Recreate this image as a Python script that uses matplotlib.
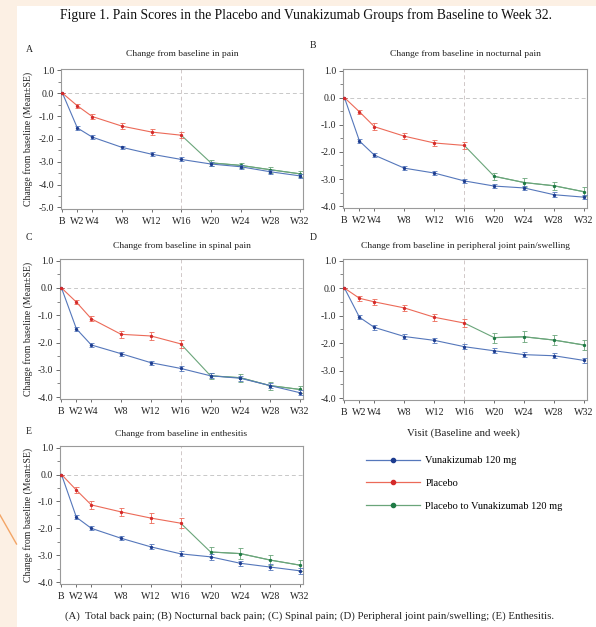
import matplotlib
matplotlib.use("Agg")
import matplotlib.pyplot as plt
from matplotlib.lines import Line2D
from matplotlib.patches import Rectangle
from matplotlib.ticker import MultipleLocator, FormatStrFormatter

plt.rcParams['font.family'] = ['Liberation Serif', 'DejaVu Serif']

# ---------------- data ----------------
weeks = [0, 2, 4, 8, 12, 16, 20, 24, 28, 32]
tick_labels = ['B', 'W2', 'W4', 'W8', 'W12', 'W16', 'W20', 'W24', 'W28', 'W32']
placebo_weeks = [0, 2, 4, 8, 12, 16]
switch_weeks = [20, 24, 28, 32]

series_names = ['Vunakizumab 120 mg', 'Placebo', 'Placebo to Vunakizumab 120 mg']
panel_letters = ['A', 'B', 'C', 'D', 'E']
panel_titles = ['Change from baseline in pain',
                'Change from baseline in nocturnal pain',
                'Change from baseline in spinal pain',
                'Change from baseline in peripheral joint pain/swelling',
                'Change from baseline in enthesitis']

vuna_A = [0, -1.52, -1.92, -2.37, -2.67, -2.90, -3.10, -3.22, -3.44, -3.62]
vuna_A_se = [0, 0.07, 0.07, 0.08, 0.09, 0.09, 0.09, 0.09, 0.09, 0.09]
plac_A = [0, -0.55, -1.02, -1.44, -1.70, -1.84]
plac_A_se = [0, 0.08, 0.10, 0.12, 0.13, 0.13]
switch_A = [-3.05, -3.16, -3.35, -3.53]
switch_A_se = [0.12, 0.12, 0.13, 0.13]

vuna_B = [0, -1.60, -2.12, -2.60, -2.78, -3.07, -3.26, -3.33, -3.58, -3.67]
vuna_B_se = [0, 0.06, 0.08, 0.08, 0.08, 0.08, 0.09, 0.09, 0.09, 0.08]
plac_B = [0, -0.52, -1.07, -1.42, -1.67, -1.76]
plac_B_se = [0, 0.07, 0.12, 0.11, 0.12, 0.12]
switch_B = [-2.90, -3.13, -3.25, -3.47]
switch_B_se = [0.14, 0.15, 0.15, 0.16]

vuna_C = [0, -1.50, -2.09, -2.41, -2.74, -2.95, -3.22, -3.31, -3.58, -3.84]
vuna_C_se = [0, 0.06, 0.07, 0.08, 0.08, 0.08, 0.09, 0.09, 0.09, 0.09]
plac_C = [0, -0.52, -1.13, -1.70, -1.76, -2.05]
plac_C_se = [0, 0.06, 0.10, 0.13, 0.14, 0.16]
switch_C = [-3.22, -3.29, -3.58, -3.72]
switch_C_se = [0.12, 0.14, 0.15, 0.14]

vuna_D = [0, -1.06, -1.43, -1.76, -1.90, -2.13, -2.28, -2.42, -2.46, -2.63]
vuna_D_se = [0, 0.07, 0.08, 0.09, 0.09, 0.09, 0.09, 0.09, 0.09, 0.08]
plac_D = [0, -0.37, -0.50, -0.72, -1.06, -1.27]
plac_D_se = [0, 0.10, 0.10, 0.12, 0.13, 0.14]
switch_D = [-1.80, -1.77, -1.89, -2.07]
switch_D_se = [0.18, 0.20, 0.17, 0.18]

vuna_E = [0, -1.59, -2.00, -2.37, -2.69, -2.95, -3.06, -3.30, -3.44, -3.58]
vuna_E_se = [0, 0.07, 0.08, 0.08, 0.09, 0.09, 0.10, 0.10, 0.10, 0.10]
plac_E = [0, -0.58, -1.13, -1.39, -1.62, -1.81]
plac_E_se = [0, 0.10, 0.14, 0.15, 0.18, 0.18]
switch_E = [-2.88, -2.94, -3.18, -3.37]
switch_E_se = [0.17, 0.20, 0.18, 0.20]

panels = [
    (vuna_A, vuna_A_se, plac_A, plac_A_se, switch_A, switch_A_se, -5),
    (vuna_B, vuna_B_se, plac_B, plac_B_se, switch_B, switch_B_se, -4),
    (vuna_C, vuna_C_se, plac_C, plac_C_se, switch_C, switch_C_se, -4),
    (vuna_D, vuna_D_se, plac_D, plac_D_se, switch_D, switch_D_se, -4),
    (vuna_E, vuna_E_se, plac_E, plac_E_se, switch_E, switch_E_se, -4),
]

# ---------------- style ----------------
BLUE = '#5577bb'
RED = '#ec6a58'
GREEN = '#6aa57a'
BLUE_M = '#1d3c8f'
RED_M = '#d42a2a'
GREEN_M = '#1f7a45'
SPINE = '#9a9a9a'

W, H = 596, 627
fig = plt.figure(figsize=(W / 100, H / 100), dpi=100)
fig.patch.set_facecolor('white')

# decorative background strips
fig.patches.append(Rectangle((0, 0), 16.5 / W, 1, transform=fig.transFigure,
                             facecolor='#fcf0e4', edgecolor='none', zorder=-10))
fig.patches.append(Rectangle((0, 1 - 6 / H), 1, 6 / H, transform=fig.transFigure,
                             facecolor='#fcf0e4', edgecolor='none', zorder=-10))
fig.lines.append(Line2D([0 / W, 16.5 / W], [1 - 515 / H, 1 - 544 / H],
                        transform=fig.transFigure, color='#f3a566', lw=1.0))


def px_axes(left, top, right, bottom):
    return fig.add_axes([left / W, 1 - bottom / H, (right - left) / W, (bottom - top) / H])


boxes = [(61, 69, 303, 209), (343, 69, 587, 208), (60, 259, 303, 399),
         (343, 259, 587, 400), (60, 446, 303, 584)]
letter_pos = [(29, 49), (313, 46), (29, 238), (313, 237), (29, 431)]
title_y = [54, 54, 246, 246, 434]

for i, (box, data) in enumerate(zip(boxes, panels)):
    vu, vu_se, pl, pl_se, sw, sw_se, ymin = data
    ax = px_axes(*box)
    ax.set_facecolor('white')
    ax.axhline(0, color='#c8c8c8', lw=0.7, ls=(0, (4, 3)), zorder=0)
    ax.axvline(16, color='#d0c8c8', lw=0.7, ls=(0, (4, 3)), zorder=0)

    ekw = dict(lw=0.8, elinewidth=0.6, capsize=1.8, capthick=0.6, marker='o',
               markersize=1.4)
    ax.errorbar(weeks, vu, yerr=vu_se, color=BLUE, mfc=BLUE_M, mec=BLUE_M, zorder=3, **ekw)
    ax.errorbar(placebo_weeks, pl, yerr=pl_se, color=RED, mfc=RED_M, mec=RED_M, zorder=3, **ekw)
    ax.plot([placebo_weeks[-1]] + switch_weeks, [pl[-1]] + sw, color=GREEN, lw=0.8, zorder=2)
    ax.errorbar(switch_weeks, sw, yerr=sw_se, color=GREEN, mfc=GREEN_M, mec=GREEN_M,
                zorder=2, **ekw)

    ax.set_xlim(-0.2, 32.4)
    ax.set_ylim(ymin - 0.07, 1.06)
    ax.set_xticks(weeks)
    ax.set_xticklabels(tick_labels)
    ax.yaxis.set_major_locator(MultipleLocator(1.0))
    ax.yaxis.set_minor_locator(MultipleLocator(0.5))
    ax.yaxis.set_major_formatter(FormatStrFormatter('%.1f'))
    ax.tick_params(axis='both', colors='#555555', labelcolor='#222222', labelsize=7,
                   width=0.6, length=3, pad=2)
    ax.tick_params(axis='y', which='minor', colors='#555555', width=0.5, length=2)
    ax.tick_params(axis='x', pad=4, labelsize=7.2, length=2)
    for s in ax.spines.values():
        s.set_color(SPINE)
        s.set_linewidth(0.8)

    cx = (box[0] + box[2]) / 2 / W
    fig.text(cx, 1 - title_y[i] / H, panel_titles[i], ha='center', va='center',
             fontsize=6.8, color='#222222')
    fig.text(letter_pos[i][0] / W, 1 - letter_pos[i][1] / H, panel_letters[i],
             ha='center', va='center', fontsize=7, color='#222222')
    if i in (0, 2, 4):
        fig.text(28 / W, 1 - ((box[1] + box[3]) / 2) / H,
                 'Change from baseline (Mean\u00b1SE)', rotation=90,
                 ha='center', va='center', fontsize=7, color='#222222')

# figure title and footnote
fig.text(306 / W, 1 - 15 / H,
         'Figure 1. Pain Scores in the Placebo and Vunakizumab Groups from Baseline to Week 32.',
         ha='center', va='center', fontsize=9.8, color='#111111')
fig.text(310 / W, 1 - 616 / H,
         '(A)  Total back pain; (B) Nocturnal back pain; (C) Spinal pain; '
         '(D) Peripheral joint pain/swelling; (E) Enthesitis.',
         ha='center', va='center', fontsize=7.75, color='#222222')

# legend area
fig.text(463 / W, 1 - 433 / H, 'Visit (Baseline and week)', ha='center', va='center',
         fontsize=7.8, color='#222222')
handles = [Line2D([], [], color=BLUE, lw=0.9, marker='o', markersize=3,
                  mfc=BLUE_M, mec=BLUE_M),
           Line2D([], [], color=RED, lw=0.9, marker='o', markersize=3,
                  mfc=RED_M, mec=RED_M),
           Line2D([], [], color=GREEN, lw=0.9, marker='o', markersize=3,
                  mfc=GREEN_M, mec=GREEN_M)]
fig.legend(handles, series_names, loc='upper left',
           bbox_to_anchor=(366 / W, 1 - 456 / H), frameon=False, fontsize=7.5,
           handlelength=5.2, handletextpad=0.5, labelspacing=1.3, numpoints=1,
           borderaxespad=0, borderpad=0)

fig.savefig('out.png', dpi=100, facecolor=fig.get_facecolor())
